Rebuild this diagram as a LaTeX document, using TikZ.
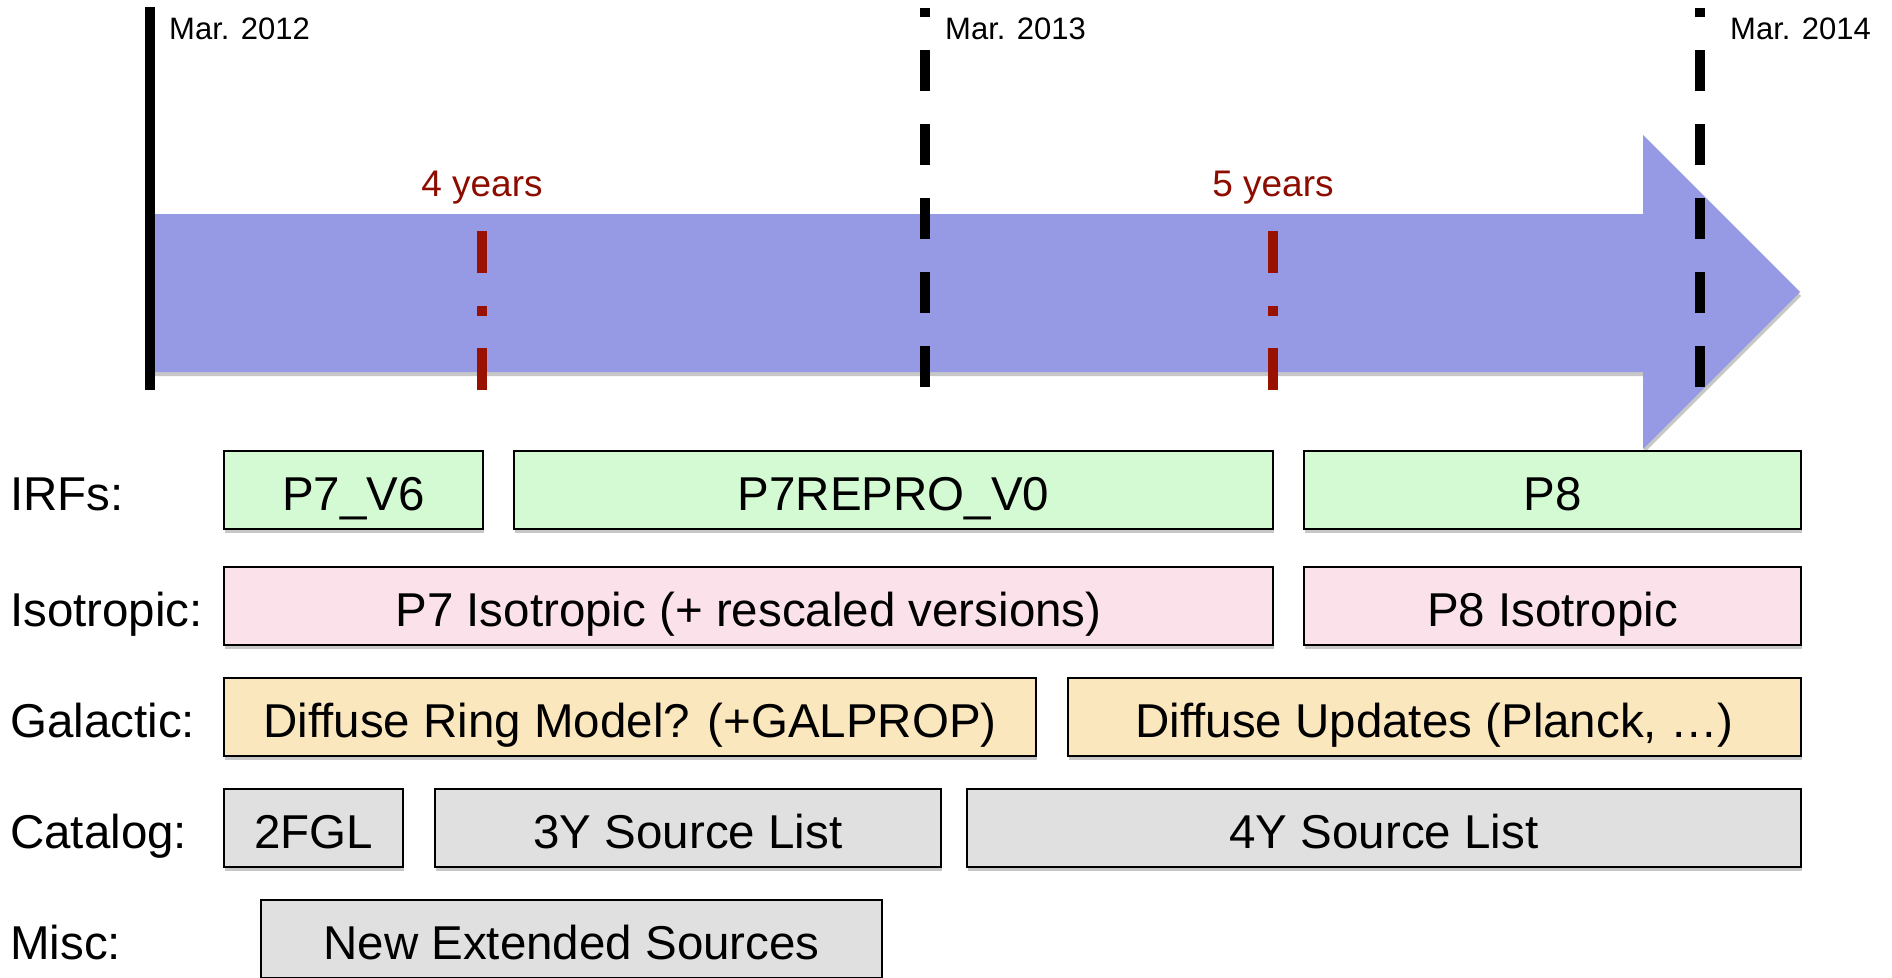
\documentclass[tikz,border=0pt]{standalone}
\usepackage{fontspec}
\setmainfont{Liberation Sans}
\usetikzlibrary{shadows}

\definecolor{bandblue}{RGB}{150,154,229}
\definecolor{irfgreen}{RGB}{212,250,212}
\definecolor{isopink}{RGB}{250,225,234}
\definecolor{galtan}{RGB}{251,231,190}
\definecolor{catgray}{RGB}{224,224,224}
\definecolor{yearred}{RGB}{140,12,0}
\definecolor{markred}{RGB}{153,17,0}

\tikzset{
  softshadow/.style={drop shadow={shadow xshift=1pt, shadow yshift=-4pt, opacity=.22, fill=black}},
  rowbox/.style={draw=black, line width=2pt, inner sep=0pt, minimum height=78pt,
    text height=40pt, text depth=0pt, font=\fontsize{47.5}{54}\selectfont, softshadow},
  irfbox/.style={rowbox, fill=irfgreen},
  isobox/.style={rowbox, fill=isopink},
  galbox/.style={rowbox, fill=galtan},
  catbox/.style={rowbox, fill=catgray},
  rowlabel/.style={anchor=west, inner sep=0pt, text height=40pt, text depth=0pt,
    font=\fontsize{47.5}{54}\selectfont},
  datelabel/.style={anchor=base west, inner sep=0pt, font=\fontsize{31}{36}\selectfont},
  yearlabel/.style={anchor=base, inner sep=0pt, text=yearred, font=\fontsize{37}{42}\selectfont},
  epoch/.style={line width=10pt, black},
  epochdash/.style={line width=10.5pt, black, dash pattern=on 41pt off 33pt},
  yearmark/.style={line width=10pt, markred, dash pattern=on 42pt off 33pt on 10pt off 32pt},
}

\begin{document}
\begin{tikzpicture}[x=1pt, y=-1pt]
  \useasboundingbox (0,0) rectangle (1892,977);
  \clip (0,0) rectangle (1892,977);

  % time arrow
  \fill[bandblue, softshadow]
    (150,214) -- (1643,214) -- (1643,135) -- (1800,292) -- (1643,449)
    -- (1643,372) -- (150,372) -- cycle;

  % epoch markers
  \coordinate (e12top) at (150,7);   \coordinate (e12bot) at (150,390);
  \coordinate (e13top) at (925,8);   \coordinate (e13bot) at (925,387);
  \coordinate (e14top) at (1700,8);  \coordinate (e14bot) at (1700,387);
  \draw[epoch] (e12bot) -- (e12top);
  \draw[epochdash] (e13bot) -- (e13top);
  \draw[epochdash] (e14bot) -- (e14top);

  \node[datelabel] (d12) at (169,39) {Mar. 2012};
  \node[datelabel] (d13) at (945,39) {Mar. 2013};
  \node[datelabel] (d14) at (1730,39) {Mar. 2014};

  % exposure milestones
  \coordinate (y4top) at (482,231);  \coordinate (y4bot) at (482,390);
  \coordinate (y5top) at (1273,231); \coordinate (y5bot) at (1273,390);
  \draw[yearmark] (y4top) -- (y4bot);
  \draw[yearmark] (y5top) -- (y5bot);
  \node[yearlabel] (t4) at (482,196) {4 years};
  \node[yearlabel] (t5) at (1273,196) {5 years};

  % row labels
  \node[rowlabel] (lirf) at (10,490) {IRFs:};
  \node[rowlabel] (liso) at (10,606) {Isotropic:};
  \node[rowlabel] (lgal) at (10,717) {Galactic:};
  \node[rowlabel] (lcat) at (10,828) {Catalog:};
  \node[rowlabel] (lmis) at (10,939) {Misc:};

  % IRFs
  \node[irfbox, minimum width=259pt] (v6)    at (353.5,490) {P7\_V6};
  \node[irfbox, minimum width=759pt] (repro) at (893.5,490) {P7REPRO\_V0};
  \node[irfbox, minimum width=497pt] (p8)    at (1552.5,490) {P8};

  % Isotropic
  \node[isobox, minimum width=1049pt] (iso7) at (748.5,606) {P7 Isotropic (+ rescaled versions)};
  \node[isobox, minimum width=497pt]  (iso8) at (1552.5,606) {P8 Isotropic};

  % Galactic
  \node[galbox, minimum width=812pt] (ring) at (630,717) {Diffuse Ring Model? (+GALPROP)};
  \node[galbox, minimum width=733pt] (upd)  at (1434.5,717) {Diffuse Updates (Planck, …)};

  % Catalog
  \node[catbox, minimum width=179pt] (fgl) at (313.5,828) {2FGL};
  \node[catbox, minimum width=506pt] (y3)  at (688,828) {3Y Source List};
  \node[catbox, minimum width=834pt] (y4)  at (1384,828) {4Y Source List};

  % Misc
  \node[catbox, minimum width=621pt] (ext) at (571.5,939) {New Extended Sources};
\end{tikzpicture}
\end{document}
